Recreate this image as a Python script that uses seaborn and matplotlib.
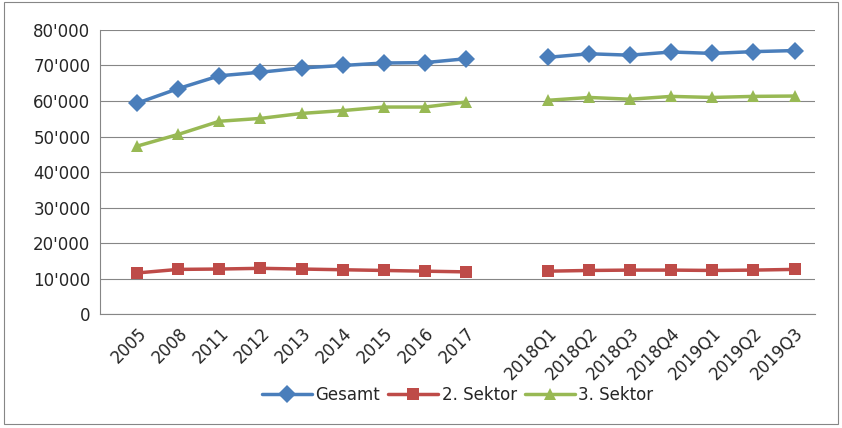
import pandas as pd
import matplotlib.pyplot as plt
import matplotlib.ticker as mticker
import seaborn as sns

categories = ["2005", "2008", "2011", "2012", "2013", "2014", "2015", "2016", "2017", "",
              "2018Q1", "2018Q2", "2018Q3", "2018Q4", "2019Q1", "2019Q2", "2019Q3"]
gesamt = [59400, 63500, 67100, 68100, 69300, 70000, 70700, 70800, 71900, None,
          72300, 73300, 72900, 73800, 73400, 73900, 74200]
sektor2 = [11600, 12600, 12700, 12900, 12700, 12500, 12300, 12100, 11900, None,
           12100, 12300, 12400, 12400, 12300, 12400, 12600]
sektor3 = [47300, 50600, 54300, 55100, 56500, 57300, 58300, 58300, 59700, None,
           60200, 61000, 60500, 61300, 61000, 61300, 61400]

rows = []
for name, vals in [("Gesamt", gesamt), ("2. Sektor", sektor2), ("3. Sektor", sektor3)]:
    for i, v in enumerate(vals):
        if v is None:
            continue
        rows.append({"x": i, "value": v, "series": name, "seg": 0 if i < 9 else 1})
df = pd.DataFrame(rows)

sns.set_style("white")
fig = plt.figure(figsize=(8.42, 4.28), dpi=100)
ax = fig.add_axes([0.119, 0.266, 0.849, 0.664])
palette = {"Gesamt": "#4A7EBB", "2. Sektor": "#BE4B48", "3. Sektor": "#98B954"}
markers = {"Gesamt": "D", "2. Sektor": "s", "3. Sektor": "^"}
sns.lineplot(data=df, x="x", y="value", hue="series", style="series", units="seg",
             estimator=None, palette=palette, markers=markers, dashes=False,
             linewidth=2.5, markersize=9, markeredgewidth=0, ax=ax)

ax.set_ylim(0, 80000)
ax.set_xlim(-0.9, 16.5)
ax.yaxis.set_major_locator(mticker.MultipleLocator(10000))
ax.yaxis.set_major_formatter(mticker.FuncFormatter(
    lambda v, p: "0" if v == 0 else f"{int(v):,}".replace(",", "'")))
ax.set_xticks(range(len(categories)))
ax.set_xticklabels(categories, rotation=45, ha="right", rotation_mode="anchor", fontsize=12)
ax.tick_params(axis="y", labelsize=12)
ax.grid(axis="y", color="#868686", linewidth=0.8)
for s in ["top", "right"]:
    ax.spines[s].set_visible(False)
ax.spines["left"].set_color("#868686")
ax.spines["bottom"].set_color("#868686")
ax.set_xlabel("")
ax.set_ylabel("")
ax.legend(loc="upper center", bbox_to_anchor=(0.5, -0.2), ncol=3, frameon=False,
          fontsize=12, handlelength=3, columnspacing=0.5, handletextpad=0.2)

fig.patches.append(plt.Rectangle((0.005, 0.01), 0.99, 0.985, transform=fig.transFigure,
                                 fill=False, edgecolor="#868686", linewidth=0.8))
fig.savefig("out.png", dpi=100)
